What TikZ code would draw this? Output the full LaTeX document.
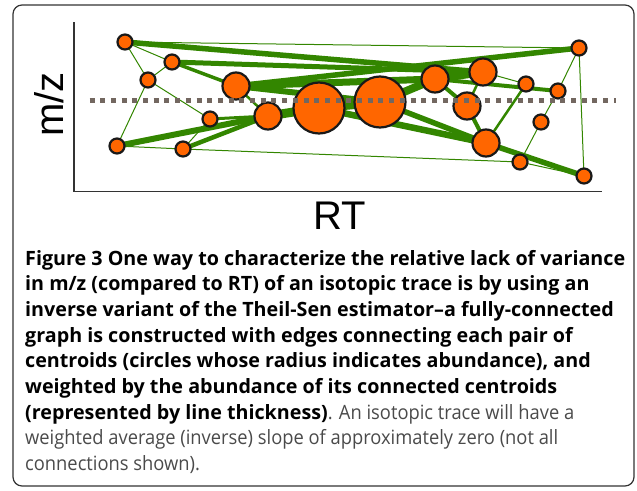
\documentclass[tikz,border=0pt]{standalone}
\usepackage{fontspec}
\setmainfont{Open Sans}
\newfontfamily\lightfont[FakeStretch=0.93]{Open Sans}
\newfontfamily\axisfont{Liberation Sans}
\usetikzlibrary{backgrounds}
\definecolor{edgegreen}{HTML}{338600}
\definecolor{nodeorange}{HTML}{FF6600}
\definecolor{dotgray}{HTML}{736760}
\definecolor{captgray}{HTML}{4A4A4A}
\definecolor{framegray}{HTML}{333333}
\newlength\capw
\newcommand\capfirst{\textbf{Figure 3 One way to characterize the relative lack of variance}}
\tikzset{
  cen/.style={circle, draw=black!90, line width=2.2pt, fill=nodeorange, inner sep=0pt},
  sm/.style={cen, minimum size=15pt},
  md/.style={cen, minimum size=27pt},
  lg/.style={cen, minimum size=51pt},
  e/.style={draw=edgegreen, line cap=butt, line width=#1},
  e/.default=1pt,
  capline/.style={anchor=base west, inner sep=0pt, font=\fontsize{\capfs}{24}\selectfont},
  axisline/.style={draw=framegray, line width=1.6pt},
}
\begin{document}
\settowidth\capw{\fontsize{10}{12}\selectfont\capfirst}%
\pgfmathsetmacro\capfs{10*600/\capw}%
\begin{tikzpicture}[x=1pt,y=-1pt]
\useasboundingbox (0,0) rectangle (637,490);
% frame
\draw[framegray, line width=1.2pt, rounded corners=9pt] (13,5) rectangle (634,486);
% axes
\coordinate (ytop) at (74,22);
\coordinate (org) at (74,191.5);
\coordinate (xend) at (601.5,191.5);
\draw[axisline] (ytop) -- (org) -- (xend);
% centroids
\node[sm] (A) at (125,42) {};
\node[sm] (B) at (172,62) {};
\node[sm] (C) at (148,80) {};
\node[md] (D) at (236,86) {};
\node[sm] (E) at (210,119) {};
\node[md] (F) at (268,116) {};
\node[sm] (G) at (117,146) {};
\node[sm] (H) at (183,149) {};
\node[lg] (I) at (319,108) {};
\node[lg] (J) at (380,102) {};
\node[md] (K) at (435,79) {};
\node[md] (L) at (483,72) {};
\node[md] (M) at (467,106) {};
\node[sm] (N) at (526,84) {};
\node[sm] (O) at (558,91) {};
\node[sm] (P) at (579,48) {};
\node[sm] (Q) at (541,122) {};
\node[md] (R) at (486,143) {};
\node[sm] (S) at (520,162) {};
\node[sm] (T) at (584,176) {};
% edges
\begin{scope}[on background layer]
% thin
\foreach \a/\b in {A/P, A/B, A/C, B/C, C/G, C/E, G/H, H/S, H/E, P/O, O/Q, Q/S, P/T, L/N, S/T}
  \draw[e] (\a.center) -- (\b.center);
% medium
\foreach \a/\b/\w in {B/D/3.5pt, D/F/2.5pt, E/F/3pt, L/M/2.5pt, N/R/2.5pt, M/R/4pt, K/M/4pt, K/O/4pt}
  \draw[e=\w] (\a.center) -- (\b.center);
% thick
\foreach \a/\b/\w in {A/L/5.5pt, B/L/5pt, P/D/5.5pt, D/K/7pt, D/J/6pt, G/F/6pt, H/F/4.5pt, I/R/6.5pt, J/R/5.5pt, R/T/5.5pt, K/L/8pt, J/K/8pt, F/I/9pt, I/J/9pt}
  \draw[e=\w] (\a.center) -- (\b.center);
\end{scope}
% dotted trend line
\coordinate (dl) at (89.5,100);
\coordinate (dr) at (616,100);
\draw[dotgray, line width=5pt, dash pattern=on 5pt off 5.7pt] (dl) -- (dr);
% axis labels
\node[rotate=90, anchor=base, inner sep=0pt, font=\axisfont\fontsize{40}{40}\selectfont] (mz) at (63,104.5) {m/z};
\node[anchor=base, inner sep=0pt, font=\axisfont\fontsize{40}{40}\selectfont] (rt) at (340,229.5) {RT};
% caption
\node[capline] (c1) at (25,265) {\capfirst};
\node[capline] (c2) at (25,290.7) {\textbf{in m/z (compared to RT) of an isotopic trace is by using an}};
\node[capline] (c3) at (25,316.4) {\textbf{inverse variant of the Theil-Sen estimator–a fully-connected}};
\node[capline] (c4) at (25,342.1) {\textbf{graph is constructed with edges connecting each pair of}};
\node[capline] (c5) at (25,367.8) {\textbf{centroids (circles whose radius indicates abundance), and}};
\node[capline] (c6) at (25,393.5) {\textbf{weighted by the abundance of its connected centroids}};
\node[capline] (c7) at (25,419.2) {\textbf{(represented by line thickness)}\textcolor{captgray}{\lightfont. An isotopic trace will have a}};
\node[capline, text=captgray] (c8) at (25,444.9) {\lightfont weighted average (inverse) slope of approximately zero (not all};
\node[capline, text=captgray] (c9) at (25,470.6) {\lightfont connections shown).};
\end{tikzpicture}
\end{document}
